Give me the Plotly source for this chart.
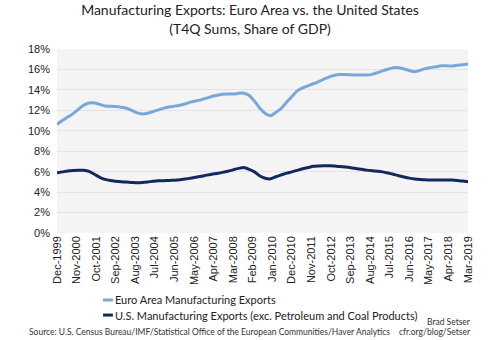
import pandas as pd
import plotly.graph_objects as go

# Quarterly T4Q sums as a share of GDP (%), Dec-1999 .. Mar-2019
quarters = pd.date_range("1999-12-01", periods=78, freq="3MS")

euro_area = [
    10.63, 11.00, 11.34, 11.68, 12.10, 12.50, 12.72, 12.72, 12.58, 12.43,
    12.40, 12.37, 12.30, 12.20, 12.00, 11.75, 11.65, 11.72, 11.88, 12.05,
    12.22, 12.33, 12.41, 12.50, 12.62, 12.80, 12.92, 13.02, 13.20, 13.36,
    13.47, 13.58, 13.60, 13.60, 13.66, 13.68, 13.45, 12.90, 12.20, 11.70,
    11.48, 11.80, 12.20, 12.80, 13.35, 13.90, 14.20, 14.40, 14.60, 14.82,
    15.05, 15.27, 15.43, 15.50, 15.51, 15.47, 15.45, 15.45, 15.45, 15.52,
    15.68, 15.86, 16.02, 16.16, 16.17, 16.05, 15.90, 15.78, 15.92, 16.08,
    16.18, 16.27, 16.36, 16.35, 16.33, 16.40, 16.47, 16.53,
]

us_ex_petroleum = [
    5.90, 5.98, 6.06, 6.11, 6.14, 6.14, 6.03, 5.75, 5.45, 5.24,
    5.13, 5.07, 5.02, 4.98, 4.95, 4.92, 4.95, 5.00, 5.06, 5.10,
    5.12, 5.14, 5.17, 5.21, 5.28, 5.36, 5.45, 5.55, 5.66, 5.75,
    5.83, 5.93, 6.04, 6.18, 6.32, 6.40, 6.22, 5.98, 5.58, 5.35,
    5.30, 5.50, 5.68, 5.86, 5.98, 6.13, 6.28, 6.40, 6.52, 6.56,
    6.58, 6.58, 6.55, 6.50, 6.45, 6.39, 6.31, 6.23, 6.15, 6.10,
    6.05, 5.98, 5.87, 5.74, 5.60, 5.48, 5.37, 5.29, 5.24, 5.20,
    5.18, 5.18, 5.18, 5.18, 5.18, 5.14, 5.08, 5.02,
]

# Axis labels every 11 months
x_ticks = pd.date_range("1999-12-01", "2019-03-01", freq="11MS")
y_ticks = [0, 2, 4, 6, 8, 10, 12, 14, 16, 18]
y_tick_text = [f"{v}%" for v in y_ticks]

series_names = [
    "Euro Area Manufacturing Exports",
    "U.S. Manufacturing Exports (exc. Petroleum and Coal Products)",
]
series_colors = ["#78a7da", "#11295c"]

TEXT_FONT = "Lato"
TICK_FONT = "Liberation Sans"

fig = go.Figure()
for name, vals, color in zip(series_names, [euro_area, us_ex_petroleum], series_colors):
    fig.add_trace(go.Scatter(
        x=quarters, y=vals, mode="lines", name=name,
        line=dict(color=color, width=3, shape="spline", smoothing=0.6),
        showlegend=False,
    ))

# Hand-built legend: short swatch + label under the axis labels
legend_rows = [-0.364, -0.446]
for name, color, yy in zip(series_names, series_colors, legend_rows):
    fig.add_shape(type="line", xref="paper", yref="paper",
                  x0=0.112, x1=0.136, y0=yy, y1=yy,
                  line=dict(color=color, width=3))
    fig.add_annotation(text=name, xref="paper", yref="paper",
                       x=0.136, y=yy, xanchor="left", yanchor="middle",
                       showarrow=False, font=dict(family=TEXT_FONT, size=11, color="#222"))

fig.add_annotation(
    text="Source: U.S. Census Bureau/IMF/Statistical Office of the European Communities/Haver Analytics",
    xref="paper", yref="paper", x=-0.073, y=-0.538, xanchor="left", yanchor="middle",
    showarrow=False, font=dict(family=TEXT_FONT, size=8.5, color="#333"))
fig.add_annotation(
    text="Brad Setser", xref="paper", yref="paper", x=1.012, y=-0.484,
    xanchor="right", yanchor="middle", showarrow=False,
    font=dict(family=TEXT_FONT, size=8.5, color="#333"))
fig.add_annotation(
    text="cfr.org/blog/Setser", xref="paper", yref="paper", x=1.012, y=-0.538,
    xanchor="right", yanchor="middle", showarrow=False,
    font=dict(family=TEXT_FONT, size=8.5, color="#333"))

fig.update_layout(
    width=500, height=340,
    margin=dict(l=57, r=32, t=49, b=107),
    paper_bgcolor="white", plot_bgcolor="#f4f4f4",
    title=dict(
        text="Manufacturing Exports: Euro Area vs. the United States<br>(T4Q Sums, Share of GDP)",
        x=0.5, xanchor="center", y=0.955, yanchor="top",
        font=dict(family=TEXT_FONT, size=14, color="#222"),
    ),
    xaxis=dict(
        type="date", range=[x_ticks[0], x_ticks[-1]],
        tickvals=x_ticks, tickformat="%b-%Y", tickangle=-90,
        showgrid=False, zeroline=False, showline=False, ticks="",
        tickfont=dict(family=TICK_FONT, size=11, color="#222"),
    ),
    yaxis=dict(
        range=[0, 18], tickvals=y_ticks, ticktext=y_tick_text,
        showgrid=True, gridcolor="#e3e3e3", gridwidth=1,
        zeroline=False, showline=False, ticks="",
        ticklabelstandoff=6,
        tickfont=dict(family=TICK_FONT, size=11, color="#222"),
    ),
)

fig.write_html("out.html")
